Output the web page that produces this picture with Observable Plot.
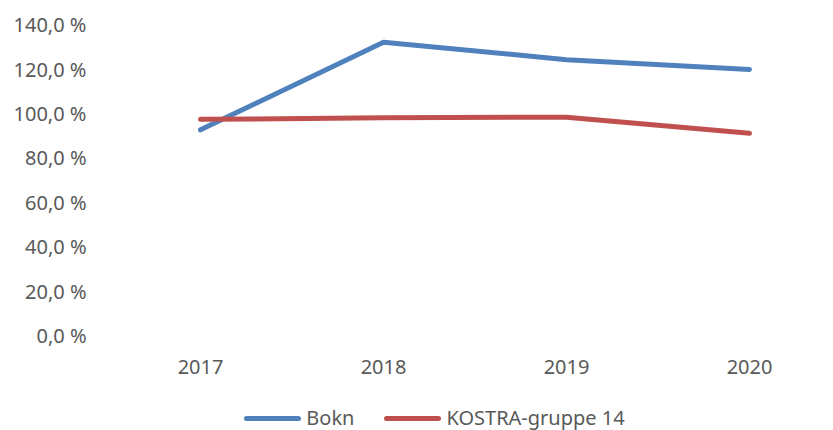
<!DOCTYPE html>
<html>
<head>
<meta charset="utf-8">
<script src="https://cdn.jsdelivr.net/npm/d3@7"></script>
<script src="https://cdn.jsdelivr.net/npm/@observablehq/plot@0.6"></script>
<style>
  html, body { margin: 0; padding: 0; background: #fff; overflow: hidden; }
  #chart { width: 833px; height: 430px; position: relative; font-family: "Noto Sans", sans-serif; }
  #legend { position: absolute; left: 0; top: 407px; width: 833px; display: flex; justify-content: center; gap: 30px; padding-left: 36px; box-sizing: border-box; font-size: 20px; color: #595959; line-height: 22px; height: 22px; }
  .item { display: flex; align-items: center; gap: 5px; }
  .swatch { width: 57px; height: 5px; border-radius: 3px; display: inline-block; }
</style>
</head>
<body>
<div id="chart"></div>
<script>
const years = ["2017", "2018", "2019", "2020"];
const seriesNames = ["Bokn", "KOSTRA-gruppe 14"];
const bokn = [93.2, 132.7, 124.8, 120.4];
const kostra = [97.9, 98.6, 98.9, 91.6];
const yTicks = [0, 20, 40, 60, 80, 100, 120, 140];
const colors = ["#4f81bd", "#c0504d"];

const data = [
  ...years.map((y, i) => ({ year: y, value: bokn[i], series: seriesNames[0] })),
  ...years.map((y, i) => ({ year: y, value: kostra[i], series: seriesNames[1] }))
];

const fmt = d => d.toFixed(1).replace(".", ",") + " %";

const plot = Plot.plot({
  width: 833,
  height: 392,
  marginTop: 25.5,
  marginBottom: 56,
  marginLeft: 108,
  marginRight: 0,
  style: { fontFamily: "Noto Sans, sans-serif", fontSize: "20px", color: "#595959", background: "#fff" },
  x: { type: "point", domain: years, padding: 0.5, range: [108, 840] },
  y: { domain: [0, 140] },
  color: { domain: seriesNames, range: colors },
  marks: [
    Plot.ruleY(yTicks, { stroke: "#d9d9d9", strokeWidth: 1.5, x1: 108, x2: 833 }),
    Plot.axisY(yTicks, { tickSize: 0, tickPadding: 22, tickFormat: fmt, label: null, fill: "#595959" }),
    Plot.axisX(years, { tickSize: 0, tickPadding: 23, label: null, fill: "#595959" }),
    Plot.lineY(data, { x: "year", y: "value", z: "series", stroke: "series", strokeWidth: 5, strokeLinecap: "round", strokeLinejoin: "round" })
  ]
});
document.getElementById("chart").appendChild(plot);

const legend = document.createElement("div");
legend.id = "legend";
seriesNames.forEach((name, i) => {
  const item = document.createElement("div");
  item.className = "item";
  const sw = document.createElement("span");
  sw.className = "swatch";
  sw.style.background = colors[i];
  const label = document.createElement("span");
  label.textContent = name;
  item.appendChild(sw);
  item.appendChild(label);
  legend.appendChild(item);
});
document.getElementById("chart").appendChild(legend);
</script>
</body>
</html>
